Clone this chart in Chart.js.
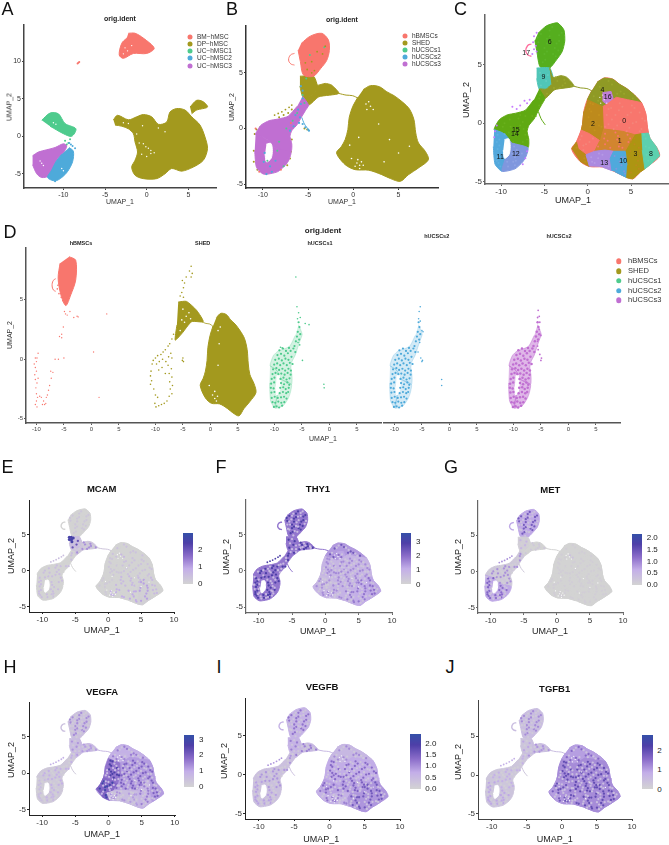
<!DOCTYPE html>
<html>
<head>
<meta charset="utf-8">
<style>
  html, body { margin: 0; padding: 0; background: #fff; }
  #fig { position: relative; width: 669px; height: 845px; overflow: hidden; font-family: "Liberation Sans", Arial, sans-serif; filter: blur(0.35px); background: #fff; }
  #fig canvas { position: absolute; }
  .t { position: absolute; white-space: nowrap; transform: translate(-50%, -50%); line-height: 1; }
  .l { position: absolute; white-space: nowrap; transform: translateY(-50%); line-height: 1; }
  .dot { position: absolute; border-radius: 50%; transform: translate(-50%, -50%); }
  .bar { position: absolute; background: linear-gradient(to top, #d3d3d3 0%, #c3aee8 30%, #8a6cc9 55%, #4e3fa8 80%, #3450a8 100%); }
</style>
</head>
<body>
<div id="fig"></div>
<script src="https://cdn.jsdelivr.net/npm/chart.js@4"></script>
<script>
// ---- panel A embedding (outlines, UMAP units)
const aPink = [[-2.2,13.75],[-1.4,13.75],[-0.4,13.1],[0.9,11.75],[0,11.05],[-1.6,11.05],[-2.8,10.4],[-3.3,10.85],[-3,12.4],[-2.4,13.1]];
const aOlive = [[-4,2.2],[-3.5,2.8],[-2.2,2.2],[-1.2,2.6],[-0.4,2.9],[0.6,2.6],[1.4,1.6],[2.4,1.9],[2.8,3.25],[3.6,3.7],[4.6,3.5],[5.4,2.6],[6.4,1.5],[7,-0.1],[7.3,-1.65],[6.8,-3.2],[5.6,-4.1],[4.2,-4.65],[3,-4.3],[2.2,-5],[1.2,-5.65],[-0.4,-5.65],[-1.4,-5.2],[-1.8,-4.1],[-1.4,-3.2],[-1.1,-2.1],[-1.4,-0.75],[-1.6,0.35],[-2.2,1],[-3,1.35],[-3.8,1.5]];
const aEar = [[5.2,3.9],[6,4.8],[6.8,4.6],[7.3,3.9],[6,3.5],[5.4,3]];
const aGreen = [[-12.6,2.15],[-11.6,3.1],[-10.6,3],[-9.8,1.7],[-8.5,1],[-9,0],[-10,0.35],[-11.6,1.35]];
const aPurple = [[-13.7,-2.6],[-13,-2.1],[-12,-1.8],[-11,-1.5],[-10,-1],[-9.6,-1.3],[-10,-2.2],[-10.8,-3.2],[-11.2,-4.3],[-11.8,-5.3],[-12.6,-5.5],[-13.2,-5],[-13.7,-3.8]];
const aBlue = [[-9.3,-1.5],[-8.8,-2],[-8.9,-3.4],[-9.5,-4.7],[-10.2,-5.5],[-11,-5.95],[-11.9,-5.5],[-11.4,-4.5],[-10.9,-3.4],[-10.2,-2.4]];
const aPinkStray = [[-8.2,9.8],[-8.1,9.9],[-8.3,9.7]];
const aWhite = [[-0.4,-1],[-0.1,-1.4],[0.2,-1.6],[0.5,-1.9],[0.9,-2.2],[-0.6,-2.4],[0,-2.7],[0.5,-2.3],[-0.9,-0.9],[-1.2,0.3],[-0.5,1.4],[-2.8,1.8],[-2.2,1.7],[1.4,1.1],[2.2,0.6],[-12.6,-3.6],[-12.4,-3.9],[-12.8,-3.3],[-10.2,-4.3],[-10,-4.6],[-11.2,1.8],[-10.9,1.6],[-2.3,11.4],[-2.6,11.8],[-1.8,12.1],[-2.8,11]];
const aGreenSpread = [[-9.8,-0.6],[-9.4,-0.9],[-9.2,-0.4],[-9.6,-1.1]];
const aBlueSpread = [[-8.9,-1.3],[-9.1,-1.1],[-11,-6],[-8.6,-1.6],[-9.3,-0.9]];

// ---- shared embedding for panels B to J: clusters as in panel C
const topLobe = [[-5.75,7.65],[-4.75,8.3],[-3.5,8.55],[-2.75,7.95],[-2.65,7],[-2.95,6.1],[-3.6,5.4],[-4.4,4.7],[-5.5,4.8],[-5.85,6],[-6.1,7.05]];
const c9Poly = [[-5.9,4.7],[-4.4,4.7],[-4,3.9],[-4.2,3.3],[-4.8,2.9],[-5.6,2.9],[-5.9,3.8]];
const neckPoly = [[-4.4,4.7],[-4,3.9],[-3.1,4.05],[-2.4,3.9],[-1.6,3.15],[-3.8,2.85],[-4.95,2.1],[-5.6,2.9],[-4.8,2.9],[-4.2,3.3]];
const stalkPoly = [[-5.6,2.9],[-4.95,2.1],[-5.3,1.6],[-5.75,1],[-6.2,0.35],[-6.8,-0.2],[-7,-0.7],[-6.8,-1.4],[-6.9,-2.1],[-8.7,-1.7],[-9,-1.5],[-9.5,-1],[-9.9,-0.8],[-10.8,-0.55],[-10.2,0.3],[-9.3,0.7],[-8.3,0.85],[-7.2,1.1],[-6.2,2]];
const c11Poly = [[-10.8,-0.55],[-9.9,-0.8],[-9.5,-1],[-9,-1.5],[-9.5,-3],[-9.9,-4.1],[-10.7,-3.5],[-10.9,-2]];
const c12Poly = [[-9,-1.5],[-8.7,-1.7],[-6.9,-2.1],[-7.1,-2.8],[-7.5,-3.3],[-8.4,-3.9],[-9.9,-4.1],[-9.5,-3]];
const c4Poly = [[1.1,3.5],[1.9,3.85],[2.9,3.75],[3.7,3.3],[4.5,2.95],[5.4,2.4],[6.2,1.75],[4.6,2],[3.3,2.2],[2.2,1.6],[1.7,1.4],[-0.05,2],[0.5,2.8]];
const c16Poly = [[1.7,2.6],[2.7,2.7],[3,1.9],[2.2,1.6],[1.7,1.9]];
const c0Poly = [[1.7,1.4],[2.2,1.6],[3.3,2.2],[4.6,2],[6.2,1.75],[6.7,0.8],[6.9,-0.4],[7,-0.85],[5.5,-1],[4,-0.7],[3,-0.6],[1.8,-0.5]];
const c2Poly = [[-0.05,2],[1.7,1.4],[1.8,-0.5],[1.4,-1.5],[0.2,-0.9],[-0.75,-0.6],[-0.6,-0.1],[-0.45,1]];
const c7Poly = [[-1.3,-1.6],[-0.75,-0.6],[0.2,-0.9],[1.4,-1.5],[0.8,-2.4],[-0.2,-2.7],[-1.1,-2.2]];
const c5Poly = [[-1.85,-2.2],[-1.3,-1.6],[-1.1,-2.2],[-0.2,-2.7],[0.2,-3.7],[-0.9,-3.25]];
const c1Poly = [[1.8,-0.5],[3,-0.6],[4,-0.7],[5.5,-1],[4.8,-1.9],[4.4,-2.4],[3,-2.4],[2,-2.3],[0.8,-2.4],[1.4,-1.5]];
const c13Poly = [[0.2,-3.7],[-0.2,-2.7],[0.8,-2.4],[2,-2.3],[3,-2.4],[2.6,-3],[2.8,-4.05],[1.7,-3.75]];
const c10Poly = [[2.8,-4.05],[2.6,-3],[3,-2.4],[4.4,-2.4],[4.6,-3.6],[4.5,-4.65],[4.1,-4.5],[3.15,-4.15]];
const c3Poly = [[4.4,-2.4],[4.8,-1.9],[5.5,-1],[6.2,-0.9],[6.3,-2.3],[6.6,-3.9],[6.1,-4.15],[5.2,-4.75],[4.5,-4.65],[4.6,-3.6]];
const c8Poly = [[6.2,-0.9],[7,-0.85],[7.2,-1.3],[7.95,-2.05],[8.3,-2.8],[7.2,-3.55],[6.6,-3.9],[6.3,-2.3]];
const bigBlob = [[1.1,3.5],[1.9,3.85],[2.9,3.75],[3.7,3.3],[4.5,2.95],[5.4,2.4],[6.2,1.75],[6.7,0.8],[6.9,-0.4],[7.2,-1.3],[7.95,-2.05],[8.3,-2.8],[7.2,-3.55],[6.1,-4.15],[5.2,-4.75],[4.1,-4.5],[3.15,-4.15],[1.7,-3.75],[0.2,-3.7],[-0.9,-3.25],[-1.85,-2.2],[-1.3,-1.6],[-0.9,-1],[-0.6,-0.1],[-0.45,1],[-0.05,2],[0.5,2.8]];
const holeLeft = [[-9.6,-1.4],[-9.1,-1.35],[-8.95,-2],[-9.1,-2.7],[-9.6,-3],[-9.75,-2.3]];
const crescent = [[-6.5,6.75],[-6.95,6.6],[-7.15,6.15],[-6.9,5.8],[-6.5,5.7]];
const filament = [[-1.6,3.15],[-0.8,3],[-0.1,2.95],[0.6,2.7]];
const tail = [[-5.7,1],[-5.4,0.4],[-4.9,-0.15]];
const stripe = [[-8.7,1.2],[-8.3,1.35],[-7.9,1.5],[-7.5,1.7],[-7.1,1.9],[-6.8,2.1]];
const blobSpecks = [[1.4,2.2],[1.7,2.4],[1.9,2],[2.2,1.7],[1.5,1.7],[0.4,-3.1],[0.7,-3.3],[0.9,-3],[0.5,-2.8],[1.1,-3.3],[0.2,-3.4],[0.7,-3.6],[-0.2,-2.7],[-0.4,-1.5],[2.8,0.4],[4,-1],[5,-2.2],[3.4,-3],[0.6,-0.8],[6.2,-1.6]];

// single cells scattered over each cluster, same order as clusterPolys
const gTop = [[-5.4,7.6],[-4.8,7.9],[-4.1,8.2],[-3.4,8.2],[-3,7.7],[-3.7,7.6],[-4.4,7.4],[-5.1,7.1],[-5.7,6.9],[-5.3,6.4],[-4.7,6.8],[-4,7],[-3.3,7],[-3.1,6.5],[-3.8,6.4],[-4.4,6.2],[-5,5.9],[-5.6,5.8],[-5.2,5.2],[-4.6,5.5],[-4,5.9],[-4.8,4.9],[-5.8,7.3],[-5,7.6],[-4.4,7.9],[-3.7,8],[-3.3,7.5],[-4.1,7.5],[-4.7,7.2],[-5.4,6.8],[-5,6.4],[-4.3,6.7],[-3.6,6.8],[-2.9,6.9],[-3.4,6.2],[-4.1,6.1],[-4.7,6.1],[-5.4,5.7],[-4.9,5.4],[-4.2,5.4],[-3.7,5.7],[-5.7,6.4]];
const gC9 = [[-5.5,4.3],[-5,4.4],[-4.6,4.1],[-5.3,3.8],[-4.8,3.6],[-4.4,3.5],[-5.4,3.2],[-5,3]];
const gNeck = [[-3.7,3.9],[-3.2,3.8],[-2.7,3.7],[-3.4,3.3],[-2.9,3.2],[-2.3,3.4],[-3.9,3],[-4.4,2.6],[-1.9,3.2],[-3.9,3.6],[-3.5,3.6],[-3,3.5],[-2.6,3.4],[-3.7,3.2],[-3.2,3],[-4.4,3],[-4.7,2.5],[-2.2,3.2]];
const gStalk = [[-5.5,2.4],[-5.9,1.8],[-5.6,1.5],[-6.3,1],[-6,0.6],[-6.7,0.9],[-7.2,0.6],[-6.6,0.3],[-8,0.4],[-8.6,0.3],[-7.5,0.1],[-9.3,0.1],[-8.9,-0.3],[-8.2,-0.2],[-7.4,-0.5],[-6.8,-0.2],[-9.8,-0.3],[-9.3,-0.6],[-8.5,-0.8],[-7.8,-0.9],[-7.2,-1],[-8.2,-1.4],[-7.5,-1.6],[-5.2,2.6],[-5.6,2.1],[-5.9,1.4],[-6.4,0.6],[-7,0.8],[-7.8,0.7],[-8.3,0.6],[-9,0.3],[-8.4,0],[-7.8,-0.2],[-7.1,0.1],[-9.6,0],[-10.1,-0.1],[-9.1,-0.8],[-8.7,-1.2],[-8,-0.6],[-7.5,-1.2],[-7,-1.4],[-8,-1.7],[-8.6,-1.6]];
const gC11 = [[-10.4,-1],[-10,-1.2],[-10.5,-1.6],[-9.9,-1.8],[-10.4,-2.2],[-10,-2.5],[-10.5,-2.9],[-9.9,-3],[-10.3,-3.4],[-9.7,-3.5],[-9.6,-0.95],[-10.6,-0.8],[-10.2,-1.4],[-10.7,-1.9],[-10.2,-1.9],[-10.6,-2.5],[-10.2,-2.7],[-9.8,-2.3],[-10.5,-3.2],[-10.1,-3.2],[-10.1,-3.7]];
const gC12 = [[-8.5,-2],[-7.9,-2.1],[-8.7,-2.6],[-8.1,-2.7],[-7.6,-2.6],[-8.9,-3.2],[-8.3,-3.2],[-7.8,-3.1],[-9.2,-3.7],[-8.6,-3.6],[-8.2,-2.3],[-7.6,-2.3],[-8.4,-2.9],[-7.9,-2.8],[-8.6,-3.3],[-8,-3.4],[-9.3,-3.3],[-8.9,-3.7],[-8.4,-3.6],[-9.6,-3.8]];
const gC4 = [[1.4,3.1],[2,3.5],[2.8,3.3],[3.5,2.9],[4.2,2.5],[1,2.5],[3.4,2.5],[4.8,2.1],[1.2,1.9],[1.7,3.2],[2.4,3.6],[3.1,3.2],[3.8,2.7],[4.5,2.4],[0.7,2.3],[3.7,2.3],[5.2,2.1],[1,1.7]];
const gC16 = [[2,2.2],[2.5,2.3],[2.4,1.9]];
const gC0 = [[2.4,1.2],[3,1.6],[3.7,1.7],[4.4,1.6],[5.1,1.5],[5.7,1.2],[2.2,0.7],[2.9,0.9],[3.6,1.1],[4.3,1],[5,0.9],[5.7,0.6],[6.3,0.4],[2.1,0.1],[2.8,0.3],[3.5,0.5],[4.2,0.3],[4.9,0.3],[5.6,0.1],[6.4,-0.1],[2,-0.3],[2.7,-0.3],[3.4,-0.2],[4.1,-0.3],[4.8,-0.4],[5.5,-0.5],[6.2,-0.5],[2.2,1],[2.7,1.3],[3.3,1.4],[4,1.4],[4.7,1.3],[5.4,1.3],[2.5,0.5],[3.2,0.7],[3.9,0.8],[4.6,0.7],[5.4,0.7],[6,0.9],[6.4,0.7],[2.4,-0.1],[3.1,0.1],[3.8,0.1],[4.5,0],[5.2,0],[6,-0.1],[6.6,0.2],[2.3,-0.4],[3,-0.5],[3.8,-0.5],[4.5,-0.7],[5.2,-0.7],[6,-0.7],[6.6,-0.6]];
const gC2 = [[0.6,1.6],[1.2,1],[0.4,1],[1,0.4],[0.1,0.5],[1.5,0.6],[0.6,-0.1],[-0.2,0],[1.3,-0.2],[0.1,-0.5],[0.8,-0.6],[1.5,-0.8],[0.3,1.7],[0.9,1.3],[0.2,1.2],[0.7,0.7],[1.3,0.7],[-0.2,0.4],[0.4,0.2],[1.5,0.1],[0.9,0.1],[-0.4,-0.3],[0.3,-0.3],[1,-0.9],[1.6,-0.3]];
const gC7 = [[-0.7,-1.1],[0,-1.2],[0.6,-1.3],[-0.8,-1.7],[-0.2,-1.8],[0.4,-1.9],[-0.5,-2.3],[0.2,-2.3],[-0.9,-1.4],[-0.4,-1.1],[0.2,-1.6],[0.8,-1.6],[-0.5,-1.9],[0.1,-2]];
const gC5 = [[-1.3,-2.1],[-0.8,-2.5],[-0.4,-3],[-1,-2.8],[-0.3,-3.3]];
const gC1 = [[2,-0.9],[2.8,-1],[3.5,-1.1],[4.2,-1.1],[4.9,-1.3],[1.6,-1.7],[2.3,-1.5],[3,-1.6],[3.7,-1.7],[4.4,-1.8],[1.2,-2],[1.9,-2.1],[2.6,-2.1],[3.3,-2.2],[4,-2.1],[2.4,-0.8],[3.2,-0.8],[3.9,-0.9],[4.6,-1],[5.2,-1.2],[1.9,-1.3],[2.6,-1.3],[3.4,-1.4],[4.1,-1.4],[4.7,-1.6],[1.4,-1.7],[2,-1.8],[2.9,-1.9],[3.6,-2],[4.3,-2.1]];
const gC13 = [[0.4,-2.9],[1,-2.8],[1.7,-2.7],[2.2,-3],[0.8,-3.4],[1.5,-3.3],[2.1,-3.6],[0.6,-2.6],[1.3,-2.6],[1.9,-2.5],[1.2,-3],[1.9,-3.2],[0.5,-3.3],[1.4,-3.6],[2.4,-3.7]];
const gC10 = [[3.1,-2.8],[3.7,-2.7],[4.2,-2.9],[3.1,-3.4],[3.7,-3.3],[4.2,-3.6],[3.3,-3.9],[3.9,-4],[4.3,-4.3],[3.4,-2.6],[3.9,-2.9],[3.4,-3.1],[3.9,-3.6],[3.6,-4.2],[4.2,-4.1],[3,-3.7]];
const gC3 = [[5,-1.6],[5.6,-1.5],[5.9,-2.1],[5.2,-2.3],[4.8,-2.8],[5.5,-2.9],[6,-2.8],[5,-3.5],[5.6,-3.6],[6.1,-3.5],[5,-4.2],[5.6,-4.1],[5.4,-1.3],[5.9,-1.1],[5.4,-1.8],[5.9,-1.7],[4.9,-2.4],[5.5,-2.5],[6,-2.4],[5.2,-3.1],[5.8,-3.2],[5.3,-3.8],[5.9,-3.9],[5.3,-4.4]];
const gC8 = [[6.7,-1.3],[7.2,-1.7],[6.7,-2],[7.4,-2.3],[6.8,-2.7],[7.6,-2.8],[7,-3.2],[6.6,-3.4],[6.5,-1],[6.9,-1.6],[7.1,-2.1],[7.8,-2.5],[7.3,-2.6],[6.6,-2.4],[7.4,-3.1],[6.9,-3.5]];

const clusterPolys = [topLobe,c9Poly,neckPoly,stalkPoly,c11Poly,c12Poly,c4Poly,c16Poly,c0Poly,c2Poly,c7Poly,c5Poly,c1Poly,c13Poly,c10Poly,c3Poly,c8Poly];
const clusterCells = [gTop,gC9,gNeck,gStalk,gC11,gC12,gC4,gC16,gC0,gC2,gC7,gC5,gC1,gC13,gC10,gC3,gC8];
const clusterColors = ['#55ae1e','#50c6b8','#8f9a25','#5fa912','#52a8dc','#7f97de','#8f9a25','#c07fd8','#f8766d','#bd8a1c','#f8766d','#b98a18','#d2852f','#ab8ae0','#4fa9dc','#ad9512','#5dd0ae'];
const clusterMix = ['#5cb52a','#62ccc0','#9aa52c','#69b01c','#5fb0e0','#8ea3e3','#9aa52c','#c07fd8','#f4857a','#c4921e','#f4857a','#c0921c','#f8766d','#b59ae5','#7f97de','#bd8a1c','#64d4b4'];

// panel C cluster numbers
const labelText = ['0','1','2','3','4','6','8','9','10','11','12','13','14','15','16','17'];
const labelX = [4.2,3.7,0.6,5.5,1.7,-4.4,7.3,-5.1,4.1,-10.1,-8.3,1.9,-8.4,-8.3,2.3,-7.1];
const labelY = [0.15,-1.55,-0.1,-2.6,2.8,6.95,-2.65,3.95,-3.25,-2.9,-2.6,-3.4,-0.9,-0.6,2.25,6];
const purpleFringe = [[-10.7,-0.7],[-10.5,-0.2],[-10.8,-1.2],[-8.7,1.4],[-8.2,1.2],[-7.8,1.5],[-7.3,1.9],[-7,1.7],[-6.7,2],[-7,-2.4],[-7.2,-3],[-7.5,-3.5],[-6,6.6],[-6.2,7.4],[-5.9,7.7],[-6.3,6.9],[-5.9,6.1],[-6.2,6.3],[-6.4,5.9]];

// panel B extras
const bOliveLeft = [[-10.9,-0.5],[-10.7,-0.1],[-10.3,0.1],[-7,-1.4],[-6.8,-1],[-6.9,-2.1],[-7,-2.7],[-7.3,-3.3],[-7.7,1.2],[-7.2,1.4],[-6.8,1.7],[-8.2,1],[-11,-2],[-11,-3],[-10.6,-3.7],[-5.4,0],[-5.1,-0.1]];
const bBlueSpecks = [[-5.6,2.7],[-5.8,2.2],[-6.1,1.7],[-6.4,1.2],[-5.9,1],[-6,0.5],[-5.6,0.4],[-5.3,0.1],[-5,-0.1],[-4.9,-0.2],[-7,-0.2],[-6.6,0.2],[-9.8,-2.2],[-9.9,-3],[-9.2,-3.4],[-9,-3.9],[-9.6,-4.1],[-8.6,-2.9],[-5.6,3.4],[-5.8,3.8]];
const bGreenSpecks = [[-5.4,2.3],[-5.6,3],[-6.2,1.4],[-6.7,0.7],[-7.4,0],[-8.2,-1.2],[-9.5,-2.9],[-8.4,-2],[-7.7,-3.4],[-4.8,6.6],[-3.2,7.3],[-5.2,4.5]];
const bPinkSpecks = [[-10.8,0],[-10.4,-3.9],[-8,-3.7],[-6.9,0.5]];
const bOliveInTop = [[-4.3,5.2],[-4.6,6],[-3.4,6.7],[-3.1,7.4],[-5.3,5.9],[-4,6.9],[-5.1,5.3],[-4.6,5]];

// panel D scatter, one list per facet
const ringCells = [[-9.1,0.75],[-8.45,0.9],[-7.9,0.7],[-7.35,0.95],[-9.45,0.35],[-8.8,0.45],[-8.2,0.3],[-7.55,0.5],[-7.05,0.7],[-6.55,0.9],[-9.85,-0.05],[-9.2,0.05],[-8.65,-0.1],[-8,0.05],[-7.45,-0.05],[-6.9,0.2],[-6.35,1.1],[-6.1,1.5],[-10.05,-0.45],[-9.5,-0.35],[-8.95,-0.5],[-8.35,-0.35],[-7.75,-0.5],[-7.2,-0.3],[-6.7,-0.4],[-10.25,-0.85],[-9.65,-0.75],[-9.15,-0.9],[-8.55,-0.8],[-8.05,-0.95],[-7.45,-0.8],[-7,-0.95],[-10.35,-1.25],[-9.8,-1.15],[-9.3,-1.25],[-8.75,-1.2],[-8.15,-1.3],[-7.6,-1.15],[-7.05,-1.3],[-10.5,-1.65],[-10,-1.55],[-8.9,-1.65],[-8.35,-1.55],[-7.8,-1.7],[-7.25,-1.6],[-10.6,-2.05],[-10.05,-1.95],[-8.8,-2],[-8.25,-2.1],[-7.65,-1.95],[-7.3,-2.15],[-10.65,-2.4],[-10.15,-2.45],[-8.95,-2.4],[-8.4,-2.35],[-7.95,-2.5],[-7.4,-2.4],[-10.55,-2.8],[-10,-2.75],[-9.05,-2.85],[-8.45,-2.75],[-7.85,-2.85],[-7.5,-2.75],[-10.5,-3.25],[-9.95,-3.15],[-9.4,-3.25],[-8.8,-3.2],[-8.25,-3.15],[-7.8,-3.3],[-10.35,-3.6],[-9.85,-3.65],[-9.3,-3.55],[-8.75,-3.65],[-8.2,-3.6],[-10.1,-4],[-9.6,-3.95],[-9.15,-4.05],[-8.6,-3.9],[-5.6,3.1],[-5.45,2.7],[-5.75,2.3],[-5.3,2.1],[-5.9,1.9],[-5.5,1.65],[-6.2,0.6]];
const d3Extra = [[-5.9,4.4],[-5.6,3.9],[-5.3,3.5],[-5.8,3.4],[-4.4,3],[-3.7,2.9],[-6.1,6.9],[-1,-2.1],[-0.95,-2.4],[-4.9,-0.1],[-5.4,1.2],[-5.7,1.4],[-8.9,1],[-8.6,0.95]];
const d4Extra = [[-5.3,4.4],[-5.5,4],[-5.6,3.4],[-5.3,3.2],[-5,2.4],[-4.8,2.3],[-5.4,1.4],[-5.7,0.6],[-5.2,0.1],[-4.9,-0.1],[-5,-0.2],[-1.4,-2.2],[-1.4,-1.7]];
const d5Extra = [[-5.5,4.1],[-5.3,3.6],[-5.6,3.5],[-5.2,3.1],[-5.3,2.5],[-5,2],[-5.6,1.5],[-5.5,0.8],[-5.2,0.4],[-5,-0.1],[-4.9,0.1],[-5.6,1.1]];
const d1Ring = [[-10.2,0.1],[-10,-0.2],[-9.9,0.1],[-10.4,-0.4],[-10.2,-0.7],[-10,-1],[-10.3,-1.3],[-10.2,-1.7],[-9.9,-2],[-9.7,-1.6],[-10.1,-2.4],[-10,-2.9],[-9.8,-3.2],[-10,-3.5],[-10.2,-3.8],[-9.9,-4],[-9.4,-3.1],[-9.1,-3.2],[-8.7,-3.5],[-8.5,-3.8],[-8.9,-3.8],[-8.3,-3.7],[-8.2,-3.2],[-8,-3],[-7.8,-2.6],[-7.6,-2.2],[-7.3,-1.6],[-7,-1.1],[-7.4,-1],[-9.7,0.5],[-6.6,0],[-6,0],[-5,0.1],[0.4,0.6],[1.4,-3.2],[2.8,3.8],[-5.1,2.7],[-5.4,2.1],[-5.4,1.8],[-5.8,1.9],[-3.2,3.5],[-2.6,3.6],[-2.4,3.55],[-4.9,4],[-4.7,3.8],[-4.4,3.7],[-3.9,4]];
const d1Top = [[-4.05,8.6],[-2.85,8.3],[-2.85,6.65],[-3.75,5.4],[-4.65,4.5],[-5.55,5.4],[-6.05,6.8],[-5.7,8.05]];
const d1Loose = [[-5.5,5.2],[-5.2,4.9],[-5.6,5.8],[-6.1,6.2],[-6.2,5.9],[-5.9,5.5]];
const d2Neck = [[-5.85,4.8],[-4.35,4.85],[-2.5,4.1],[-1.3,3.15],[-3.4,3.15],[-5.2,2.15],[-6.4,1.6],[-6.1,2.85]];
const d2Ring = [[-10.6,-0.4],[-10.4,-0.1],[-10,0.1],[-9.6,0.3],[-9,0.4],[-8.6,0.6],[-8.2,0.8],[-7.7,1.1],[-7.4,1.3],[-7,1.7],[-6.7,2.1],[-9.8,-0.4],[-9.3,-0.2],[-8.7,0],[-8.1,-0.2],[-7.6,0.2],[-7.2,0.5],[-7,0.1],[-7.7,-0.5],[-7.1,-0.8],[-7.5,-1.2],[-7,-1.5],[-7.4,-1.9],[-6.9,-2.2],[-7.3,-2.5],[-7,-2.9],[-7.5,-3.1],[-7.9,-3.5],[-8.4,-3.7],[-8.9,-3.8],[-9.4,-3.9],[-9.9,-4],[-10.1,-3.7],[-10.8,-1],[-10.9,-1.4],[-10.7,-1.8],[-10.9,-2.1],[-10.3,-2.5],[-10,-3],[-9.6,-3.2],[-8.8,-0.7],[-9.4,-0.9],[-8.2,-1.2],[-5.1,-0.1],[-5,0.1],[-4.9,-0.2],[-5.5,5.3],[-5.2,5.6],[-4.9,6],[-4.7,6.4],[-4.4,6.9],[-3.8,7.4],[-3.5,7.8],[-3.3,7.2],[-3.5,6.9],[-4.9,5.2],[-5.1,6.6]];
const d2Holes = [[-5,4.2],[-4.4,3.6],[-3.9,3.9],[-3.6,3.4],[-5.2,3.3],[-4.7,3.1],[-5.5,2.4],[1.3,-3.1],[0.8,-3.3],[1.1,-3.5],[0.4,-3],[0.8,-2.7],[1.4,2.4],[1.8,2.7],[1.6,1.3],[1.4,-0.5],[-0.2,-2.2]];

// legends, facet titles
const legendA = ['BM\u2212hMSC','DP\u2212hMSC','UC\u2212hMSC1','UC\u2212hMSC2','UC\u2212hMSC3'];
const legendB = ['hBMSCs','SHED','hUCSCs1','hUCSCs2','hUCSCs3'];
const hue = ['#f8766d','#a3991e','#4ecb8d','#4eaada','#c06fd2'];
const facetNames = ['hBMSCs','SHED','hUCSCs1','hUCSCs2','hUCSCs2'];

// expression per cluster, same order as clusterPolys: base level, level of the brighter cells
const mcamBase = [0,0.5,0.35,0,0,0,0,0,0,0,0,0,0,0,0,0.1,0];
const mcamHigh = [0.3,2,1.2,0.5,0.5,0.5,0.4,0.6,0.4,0.3,0.2,0.2,0.6,0.8,0.9,1,0.6];
const thy1Base = [1.9,1.9,1.9,1.9,1.9,1.9,1.4,1.2,0.9,0.9,0.7,0.9,0.9,0.9,1,1.1,1.2];
const thy1High = [3,3,3,3,3,3,2.4,2,1.6,1.6,1.5,1.6,1.6,1.6,1.8,1.9,2];
const metBase = [0.7,0.1,0,0.2,0.7,0.7,0,0,0,0,0,0,0,0,0,0,0];
const metHigh = [1.4,0.5,0.2,0.9,1.3,1.2,0.1,0.3,0.1,0.1,0.1,0.1,0.1,0.1,0.1,0.1,0.1];
const vegfaBase = [0.5,0.6,0.7,0.3,0.2,0.3,0.9,0.8,1.2,1.7,1.9,2,1.2,0.6,0.6,0.8,1.2];
const vegfaHigh = [1.4,1.3,1.2,0.9,0.6,0.8,1.6,1.5,2,2.7,3,3,2,1.3,1.2,1.6,2];
const vegfbBase = [0.6,0.6,0.5,0.35,0.35,0.35,0.5,0.5,0.7,0.7,0.8,0.6,0.8,0.6,0.9,0.9,0.9];
const vegfbHigh = [1.2,1.1,1.1,0.9,0.8,0.8,1,1,1.3,1.3,1.3,1.2,1.4,1.1,1.5,1.5,1.5];
const tgfb1Base = [0.5,0.35,0.5,0.3,0.35,0.35,1,1,1.2,1.2,1.1,1,1.2,1.1,1.2,1.2,1.2];
const tgfb1High = [1.2,0.9,1.1,0.8,0.9,0.9,1.6,1.6,2,2,1.9,1.8,2,1.9,2,2,2];
const mcamSpot = [[-5.9,4.6],[-5.6,4.6],[-5.9,4.3],[-5.6,4.3],[-5.3,4.5],[-5.5,4]];

const fig = document.getElementById('fig');

function toPts(list) { return list.map(p => ({ x: p[0], y: p[1] })); }
function poly(list, color, tension = 0) {
    return { data: toPts(list), showLine: true, fill: 'shape', backgroundColor: color, borderColor: color, borderWidth: 1, pointRadius: 0, tension };
}
function dots(list, color, r) {
    return { data: toPts(list), showLine: false, backgroundColor: color, borderWidth: 0, pointRadius: r };
}
function stroke(list, color, w) {
    return { data: toPts(list), showLine: true, fill: false, borderColor: color, borderWidth: w, pointRadius: 0, tension: 0.4 };
}

function text(str, x, y, o = {}) {
    const s = document.createElement('span');
    s.className = 't';
    s.textContent = str;
    s.style.left = x + 'px';
    s.style.top = y + 'px';
    s.style.fontSize = (o.size || 8) + 'px';
    s.style.color = o.color || '#222';
    if (o.bold) s.style.fontWeight = 'bold';
    if (o.rot) s.style.transform = 'translate(-50%,-50%) rotate(-90deg)';
    fig.appendChild(s);
}
function leftText(str, x, y, size, color) {
    const s = document.createElement('span');
    s.className = 'l';
    s.textContent = str;
    s.style.left = x + 'px';
    s.style.top = y + 'px';
    s.style.fontSize = size + 'px';
    s.style.color = color;
    fig.appendChild(s);
}
function legend(names, dotX, textX, ys, size, r) {
    names.forEach((n, i) => {
        const d = document.createElement('div');
        d.className = 'dot';
        d.style.cssText = `left:${dotX}px;top:${ys[i]}px;width:${r}px;height:${r}px;background:${hue[i]}`;
        fig.appendChild(d);
        leftText(n, textX, ys[i], size, '#333');
    });
}
function colorbar(x0, x1, y0, y1, labels, ys, labelX) {
    const b = document.createElement('div');
    b.className = 'bar';
    b.style.cssText = `left:${x0}px;top:${y0}px;width:${x1 - x0}px;height:${y1 - y0}px`;
    fig.appendChild(b);
    labels.forEach((l, i) => leftText(l, labelX, ys[i], 8, '#222'));
}

const clusterLabelPlugin = {
    id: 'clusterLabels',
    afterDatasetsDraw(chart) {
        const { ctx, scales } = chart;
        ctx.save();
        ctx.font = '7px "Liberation Sans"';
        ctx.fillStyle = '#111';
        ctx.textAlign = 'center';
        ctx.textBaseline = 'middle';
        labelText.forEach((t, i) => {
            ctx.fillText(t, scales.x.getPixelForValue(labelX[i]), scales.y.getPixelForValue(labelY[i]));
        });
        ctx.restore();
    }
};

function panel(b, datasets, o = {}) {
    const mL = 26, mR = 6, mT = 6, mB = 16;
    const c = document.createElement('canvas');
    c.width = b.r - b.l + mL + mR;
    c.height = b.b - b.t + mT + mB;
    c.style.left = (b.l - mL) + 'px';
    c.style.top = (b.t - mT) + 'px';
    fig.appendChild(c);
    const axisColor = o.axisColor || '#333';
    const axisW = o.axisW || 1;
    const tick = { font: { size: o.tickSize || 8, family: '"Liberation Sans"' }, color: o.tickColor || '#333', padding: 1, maxRotation: 0, autoSkip: false, callback: v => String(v) };
    new Chart(c, {
        type: 'scatter',
        // first dataset in the list is painted last by Chart.js, so flip: lists above go bottom to top
        data: { datasets: datasets.slice().reverse() },
        options: {
            responsive: false,
            animation: false,
            events: [],
            layout: { padding: { left: 0, right: mR, top: mT, bottom: 0 } },
            plugins: { legend: { display: false }, tooltip: { enabled: false } },
            scales: {
                x: {
                    type: 'linear', min: b.xlim[0], max: b.xlim[1],
                    afterBuildTicks: s => { s.ticks = b.xt.map(v => ({ value: v })); },
                    afterFit: s => { s.height = mB; },
                    grid: { drawOnChartArea: false, tickLength: 2, color: axisColor },
                    border: { color: axisColor, width: axisW },
                    ticks: tick
                },
                y: {
                    // hidden on the inner facets, afterFit still reserves its width
                    display: !o.noY,
                    type: 'linear', min: b.ylim[0], max: b.ylim[1],
                    afterBuildTicks: s => { s.ticks = b.yt.map(v => ({ value: v })); },
                    afterFit: s => { s.width = mL; },
                    grid: { drawOnChartArea: false, tickLength: 2, color: axisColor },
                    border: { color: axisColor, width: axisW },
                    ticks: tick
                }
            }
        },
        plugins: o.plugins || []
    });
}

// gene level to colour, same stops as the colour bars
const barStops = [[0, [211,211,211]], [0.3, [195,174,232]], [0.55, [138,108,201]], [0.8, [78,63,168]], [1, [52,80,168]]];
function levelColor(t) {
    t = Math.min(1, Math.max(0, t));
    for (let i = 1; i < barStops.length; i++) {
        if (t <= barStops[i][0]) {
            const [t0, c0] = barStops[i - 1], [t1, c1] = barStops[i];
            const f = (t - t0) / (t1 - t0);
            return `rgb(${c0.map((v, k) => Math.round(v + (c1[k] - v) * f)).join(',')})`;
        }
    }
    return 'rgb(52,80,168)';
}

function featureSets(base, high, max, extra) {
    const sets = [];
    const col = v => levelColor(v / max);
    sets.push(stroke(filament, col(base[2]), 1));
    sets.push(stroke(crescent, col(base[0]), 1.4));
    sets.push(stroke(tail, col(base[3]), 1));
    sets.push(dots(stripe, col(high[3]), 0.9));
    sets.push(poly(bigBlob, col(base[8]), 0.3));
    clusterPolys.forEach((p, i) => sets.push(poly(p, col(base[i]), i < 6 ? 0.2 : 0)));
    clusterCells.forEach((cells, i) => {
        // every second cell expresses, the others sit below the cluster level
        sets.push(dots(cells.filter((_, k) => k % 2 === 0), col(high[i]), 1.15));
        sets.push(dots(cells.filter((_, k) => k % 2 === 1), col(base[i] * 0.4), 1.15));
    });
    sets.push(poly(holeLeft, '#fff', 0.3));
    sets.push(dots(blobSpecks, '#fff', 0.6));
    return sets.concat(extra || []);
}

// ---- A
panel({ l: 24, r: 216, t: 25, b: 188, xlim: [-14.73, 8.32], ylim: [-6.9, 14.85], xt: [-10, -5, 0, 5], yt: [-5, 0, 5, 10] }, [
    poly(aOlive, hue[1], 0.3), poly(aEar, hue[1], 0.3), poly(aPink, hue[0], 0.3), dots(aPinkStray, hue[0], 1),
    poly(aGreen, hue[2], 0.3), dots(aGreenSpread, hue[2], 1), poly(aPurple, hue[4], 0.3), poly(aBlue, hue[3], 0.3), dots(aBlueSpread, hue[3], 1),
    dots(aWhite, '#fff', 0.7)
], { tickSize: 7, axisColor: '#444', axisW: 1.5 });
text('orig.ident', 120, 18, { size: 7, bold: true });
text('UMAP_1', 120, 201, { size: 7, color: '#333' });
text('UMAP_2', 9, 107, { size: 7, rot: true, color: '#333' });
legend(legendA, 190, 197, [36.7, 44.3, 51, 58, 65.5], 6.5, 5);

// ---- B
const bOliveBase = [poly(bigBlob, hue[1], 0.3), poly(neckPoly, hue[1], 0.2), poly(c9Poly, hue[1], 0.2), stroke(filament, hue[1], 1)];
panel({ l: 246, r: 438, t: 26, b: 188, xlim: [-11.86, 9.36], ylim: [-5.35, 9.21], xt: [-10, -5, 0, 5], yt: [-5, 0, 5] }, bOliveBase.concat([
    dots(bOliveLeft, hue[1], 1), stroke(tail, hue[3], 1), dots(stripe, hue[1], 0.9),
    poly(stalkPoly, hue[4], 0.2), poly(c11Poly, hue[4], 0.2), poly(c12Poly, hue[4], 0.2), poly(holeLeft, '#fff', 0.3),
    poly(topLobe, hue[0], 0.3), stroke(crescent, hue[0], 1),
    dots(bBlueSpecks, hue[3], 1.1), dots(bGreenSpecks, hue[2], 1), dots(bPinkSpecks, hue[0], 1), dots(bOliveInTop, hue[1], 0.9),
    dots(blobSpecks, '#fff', 0.8)
]), { tickSize: 7, axisColor: '#333', axisW: 1.5 });
text('orig.ident', 342, 19, { size: 7, bold: true });
text('UMAP_1', 342, 201, { size: 7, color: '#333' });
text('UMAP_2', 231, 107, { size: 7, rot: true, color: '#333' });
legend(legendB, 405, 412, [35.7, 43, 49.7, 57, 64], 6.5, 5);

// ---- C
const cSets = [stroke(filament, clusterColors[2], 1), stroke(tail, clusterColors[3], 1), poly(bigBlob, clusterColors[8], 0.3)];
clusterPolys.forEach((p, i) => cSets.push(poly(p, clusterColors[i], i < 6 ? 0.2 : 0)));
clusterCells.forEach((cells, i) => cSets.push(dots(cells.filter((_, k) => k % 2 === 0), clusterMix[i], 1)));
cSets.push(poly(holeLeft, '#fff', 0.3), stroke(crescent, '#ff6c9c', 1.3), dots(purpleFringe, '#c77cff', 1), dots(blobSpecks.slice(0, 5), '#fff', 0.6));
panel({ l: 485, r: 668, t: 15, b: 184, xlim: [-11.86, 9.27], ylim: [-5.19, 9.22], xt: [-10, -5, 0, 5], yt: [-5, 0, 5] }, cSets, { tickSize: 8, axisColor: '#666', axisW: 1.5, plugins: [clusterLabelPlugin] });
text('UMAP_1', 573, 200, { size: 9 });
text('UMAP_2', 466, 100, { size: 9, rot: true });

// ---- D facets
const dBox = l => ({ l, r: l + 117, t: 248, b: 423, xlim: [-11.9, 9.4], ylim: [-5.35, 9.33], xt: [-10, -5, 0, 5], yt: [-5, 0, 5] });
const dStyle = { tickSize: 6, axisColor: '#555', axisW: 1.5, tickColor: '#444' };
const ringUnder = color => [poly(stalkPoly, color, 0.2), poly(c11Poly, color, 0.2), poly(c12Poly, color, 0.2), poly(holeLeft, '#fff', 0.3)];
panel(dBox(26), [poly(d1Top, hue[0], 0.3), stroke(crescent, hue[0], 1), dots(d1Loose, hue[0], 0.8), dots(d1Ring, hue[0], 0.7)], dStyle);
panel(dBox(145), [poly(bigBlob, hue[1], 0.3), poly(d2Neck, hue[1], 0.2), stroke(filament, hue[1], 0.8), dots(d2Ring, hue[1], 0.8), dots(d2Holes, '#fff', 0.8)], { ...dStyle, noY: true });
panel(dBox(264), ringUnder(hue[2] + '40').concat([dots(ringCells, hue[2], 1.1), dots(d3Extra, hue[2], 0.8)]), { ...dStyle, noY: true });
panel(dBox(384), ringUnder(hue[3] + '40').concat([dots(ringCells, hue[3], 1.1), dots(d4Extra, hue[3], 0.8)]), { ...dStyle, noY: true });
panel(dBox(503), ringUnder(hue[4] + '80').concat([dots(ringCells, hue[4], 1.25), dots(d5Extra, hue[4], 0.9)]), { ...dStyle, noY: true });
text('orig.ident', 323, 231, { size: 8, bold: true });
[[81, 244], [202.7, 244], [320, 244], [436.7, 237], [559, 237]].forEach((p, i) => text(facetNames[i], p[0], p[1], { size: 5.5, bold: true }));
text('UMAP_1', 323, 438, { size: 7, color: '#333' });
text('UMAP_2', 9, 335, { size: 7, rot: true, color: '#333' });
legend(legendB, 618.7, 628, [261.3, 271, 280.7, 290.7, 300.3], 7.5, 5.5);

// ---- E to J
const xt = [-10, -5, 0, 5, 10], yt = [-5, 0, 5];
panel({ l: 29, r: 174, t: 500, b: 612, xlim: [-12.02, 10], ylim: [-5.75, 9.78], xt, yt }, featureSets(mcamBase, mcamHigh, 2.9, [dots(mcamSpot, levelColor(0.85), 1.5)]), { axisColor: '#222' });
panel({ l: 246, r: 392, t: 500, b: 613, xlim: [-11.9, 10], ylim: [-5.79, 9.78], xt, yt }, featureSets(thy1Base, thy1High, 3.7), { axisColor: '#666', axisW: 1.2 });
panel({ l: 478, r: 623, t: 501, b: 613, xlim: [-11.92, 10], ylim: [-5.76, 9.71], xt, yt }, featureSets(metBase, metHigh, 2.2), { axisColor: '#666', axisW: 1.2 });
panel({ l: 29, r: 175, t: 702, b: 815, xlim: [-11.97, 10.03], ylim: [-5.69, 9.69], xt, yt }, featureSets(vegfaBase, vegfaHigh, 3.3), { axisColor: '#222' });
panel({ l: 245, r: 400, t: 698, b: 819, xlim: [-11.97, 10], ylim: [-5.68, 9.79], xt, yt }, featureSets(vegfbBase, vegfbHigh, 2.3), { axisColor: '#222' });
panel({ l: 478, r: 632, t: 700, b: 819, xlim: [-11.96, 10], ylim: [-5.66, 9.65], xt, yt }, featureSets(tgfb1Base, tgfb1High, 2.8), { axisColor: '#444' });

const titles = [['MCAM', 101.7, 489], ['THY1', 318, 489], ['MET', 550.3, 490], ['VEGFA', 102, 691.7], ['VEGFB', 322, 687.3], ['TGFB1', 554.7, 688.7]];
titles.forEach(t => text(t[0], t[1], t[2], { size: 9.5, bold: true, color: '#111' }));
[[101.7, 630], [318, 631], [550, 631.3], [102, 833.7], [321.3, 839], [554.7, 839]].forEach(p => text('UMAP_1', p[0], p[1], { size: 9 }));
[[10.7, 556], [226.3, 556.7], [458.3, 556.7], [10.7, 760], [224.3, 761], [458.3, 761.7]].forEach(p => text('UMAP_2', p[0], p[1], { size: 9, rot: true }));

colorbar(183, 193, 533, 584, ['2', '1', '0'], [550, 567.3, 584.3], 198);
colorbar(401, 411, 533, 584, ['3', '2', '1', '0'], [541.7, 556, 570.3, 584.7], 416);
colorbar(632, 642, 534, 585, ['2.0', '1.5', '1.0', '0.5', '0.0'], [538.3, 550, 561.7, 573.3, 585], 646.7);
colorbar(184, 194, 735, 787, ['3', '2', '1', '0'], [739.7, 755.3, 771.3, 787], 199);
colorbar(410, 421, 734, 789, ['2.0', '1.5', '1.0', '0.5', '0.0'], [743.7, 755, 766.3, 778, 789.3], 425.3);
colorbar(642, 653, 735, 789, ['2', '1', '0'], [751, 770.3, 789.7], 657.3);

// panel letters
[['A', 7.5, 8.5], ['B', 232, 9], ['C', 460.5, 9], ['D', 10, 231.7], ['E', 7.5, 467], ['F', 221, 467], ['G', 451, 467], ['H', 10, 667], ['I', 219, 667], ['J', 450, 667]]
    .forEach(l => text(l[0], l[1], l[2], { size: 18, color: '#111' }));
</script>
</body>
</html>
